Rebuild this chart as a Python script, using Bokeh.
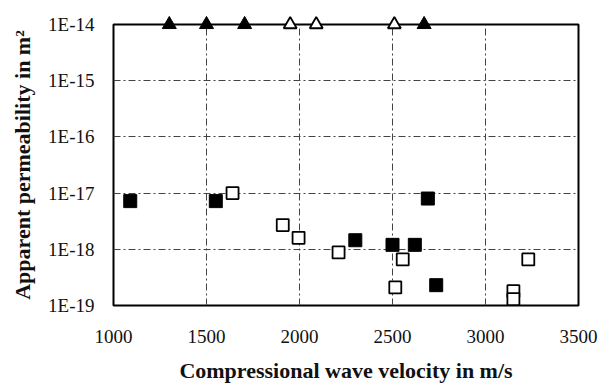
from bokeh.plotting import figure
from bokeh.models import Range1d, FixedTicker
from bokeh.embed import file_html
from bokeh.resources import INLINE

# Data
filled_sq_x = [1090, 1550, 2300, 2500, 2620, 2690, 2735]
filled_sq_y = [7.2e-18, 7.2e-18, 1.45e-18, 1.2e-18, 1.2e-18, 8.0e-18, 2.3e-19]

open_sq_x = [1640, 1910, 1995, 2210, 2555, 2515, 3150, 3150, 3230]
open_sq_y = [1.0e-17, 2.7e-18, 1.6e-18, 8.8e-19, 6.6e-19, 2.1e-19, 1.8e-19, 1.3e-19, 6.6e-19]

filled_tri_x = [1300, 1500, 1705, 2670]
filled_tri_y = [1e-14, 1e-14, 1e-14, 1e-14]

open_tri_x = [1950, 2090, 2510]
open_tri_y = [1e-14, 1e-14, 1e-14]

x_ticks = [1000, 1500, 2000, 2500, 3000, 3500]
y_ticks = [1e-19, 1e-18, 1e-17, 1e-16, 1e-15, 1e-14]
y_tick_labels = ["1E-19", "1E-18", "1E-17", "1E-16", "1E-15", "1E-14"]

FONT = "Liberation Serif"

p = figure(width=600, height=385, output_backend="svg", toolbar_location=None,
           y_axis_type="log",
           x_range=Range1d(1000, 3500), y_range=Range1d(1e-19, 1e-14),
           min_border_left=113, min_border_right=22, min_border_top=24, min_border_bottom=80)

p.background_fill_color = "white"
p.border_fill_color = "white"
p.outline_line_color = "black"
p.outline_line_width = 2

p.xaxis.ticker = FixedTicker(ticks=x_ticks)
p.yaxis.ticker = FixedTicker(ticks=y_ticks)
p.yaxis.major_label_overrides = dict(zip(y_ticks, y_tick_labels))

for ax in (p.xaxis[0], p.yaxis[0]):
    ax.axis_line_color = None
    ax.major_tick_line_color = None
    ax.minor_tick_line_color = None
    ax.major_label_text_font = FONT
    ax.major_label_text_font_size = "19px"
    ax.major_label_text_color = "#111111"
    ax.axis_label_text_font = FONT
    ax.axis_label_text_font_style = "bold"
    ax.axis_label_text_font_size = "22px"
    ax.axis_label_text_color = "#111111"

p.xaxis.axis_label = "Compressional wave velocity in m/s"
p.yaxis.axis_label = "Apparent permeability in m²"
p.xaxis.major_label_standoff = 18
p.yaxis.major_label_standoff = 13
p.xaxis.axis_label_standoff = 12
p.yaxis.axis_label_standoff = 10

for g in (p.xgrid[0], p.ygrid[0]):
    g.grid_line_color = "#444444"
    g.grid_line_width = 1
    g.grid_line_dash = "7 3 2 3"
    g.minor_grid_line_color = None

p.scatter(filled_sq_x, filled_sq_y, marker="square", size=13,
          fill_color="black", line_color="black")
p.scatter(open_sq_x, open_sq_y, marker="square", size=12,
          fill_color="white", line_color="black", line_width=1.8)
p.scatter(filled_tri_x, filled_tri_y, marker="triangle", size=14,
          fill_color="black", line_color="black", level="overlay")
p.scatter(open_tri_x, open_tri_y, marker="triangle", size=13,
          fill_color="white", line_color="black", line_width=1.8, level="overlay")

open("out.html", "w").write(file_html(p, INLINE))
